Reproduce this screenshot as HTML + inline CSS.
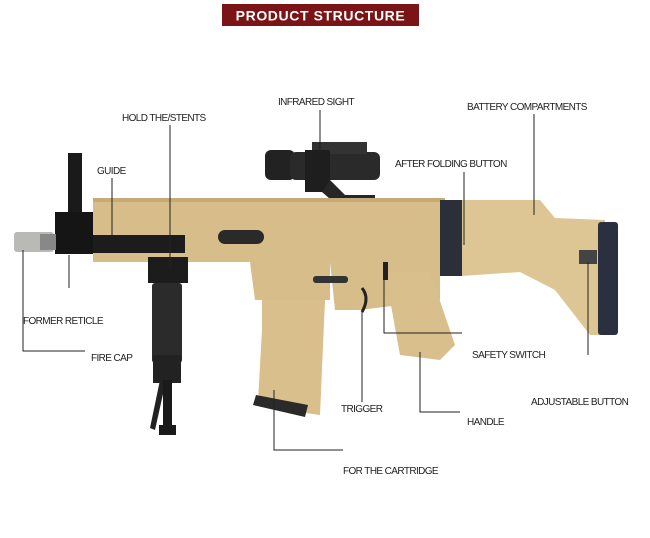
<!DOCTYPE html>
<html><head><meta charset="utf-8"><style>
html,body{margin:0;padding:0;background:#fff;width:650px;height:538px;overflow:hidden}
svg{display:block}
text{font-family:"Liberation Sans",sans-serif;font-size:10px;fill:#222;letter-spacing:-0.6px}
</style></head><body>
<svg width="650" height="538" viewBox="0 0 650 538">
<rect x="222" y="4" width="197" height="22" fill="#7b1416"/>
<text x="320.5" y="20.5" text-anchor="middle" style="font-size:14px;font-weight:bold;fill:#fff;letter-spacing:0.6px">PRODUCT STRUCTURE</text>

<!-- scope -->
<rect x="265" y="150" width="30" height="30" rx="6" fill="#222"/>
<rect x="290" y="152" width="90" height="28" rx="6" fill="#2a2a2a"/>
<rect x="312" y="142" width="55" height="12" fill="#333"/>
<rect x="305" y="150" width="25" height="42" fill="#1e1e1e"/>
<path d="M330 180 L345 195 L375 195 L375 206 L338 206 L322 192 Z" fill="#262626"/>

<!-- front sight & flash hider -->
<rect x="68" y="153" width="14" height="62" fill="#1a1a1a"/>
<rect x="55" y="212" width="38" height="42" fill="#151515"/>
<rect x="14" y="232" width="40" height="20" rx="3" fill="#b9b9b6"/>
<rect x="40" y="234" width="16" height="16" fill="#888"/>

<!-- receiver -->
<path d="M93 200 L445 200 L445 262 L330 262 L330 300 L255 300 L250 262 L93 262 Z" fill="#d6bd8a"/>
<rect x="93" y="198" width="352" height="4" fill="#c7ab76"/>
<rect x="93" y="235" width="92" height="18" fill="#1c1c1c"/>
<rect x="218" y="230" width="46" height="14" rx="7" fill="#2a2a2a"/>
<rect x="440" y="200" width="22" height="76" fill="#2a2f3a"/>
<!-- stock -->
<path d="M462 200 L540 200 L555 218 L605 220 L605 335 L590 335 L555 290 L520 272 L462 276 Z" fill="#dec694"/>
<rect x="598" y="222" width="20" height="113" rx="3" fill="#2b3040"/>
<rect x="579" y="250" width="18" height="14" fill="#444"/>
<!-- trigger area & grip -->
<path d="M330 262 L440 262 L440 300 L360 310 L335 310 Z" fill="#d6bd8a"/>
<path d="M385 272 L430 272 L455 345 L440 360 L400 355 Z" fill="#d8bf8b"/>
<rect x="313" y="276" width="35" height="7" rx="3" fill="#333"/>
<path d="M362 288 Q370 298 362 312" stroke="#222" stroke-width="3" fill="none"/>
<rect x="383" y="262" width="5" height="18" fill="#222"/>
<!-- magazine -->
<path d="M262 300 L325 300 L320 415 L298 412 L258 402 L262 330 Z" fill="#d8bf8b"/>
<path d="M256 395 L308 405 L305 417 L253 405 Z" fill="#2a2a2a"/>
<!-- foregrip -->
<rect x="148" y="257" width="40" height="26" fill="#1c1c1c"/>
<rect x="152" y="283" width="30" height="80" rx="3" fill="#2b2b2b"/>
<rect x="153" y="355" width="28" height="28" fill="#222"/>
<path d="M160 380 L150 428 L155 430 L165 385 Z" fill="#222"/>
<rect x="163" y="380" width="9" height="55" fill="#1a1a1a"/>
<rect x="159" y="425" width="17" height="10" fill="#1a1a1a"/>

<!-- connector lines -->
<g stroke="#222" stroke-width="1" fill="none">
<path d="M320 110 V150"/>
<path d="M170 125 V268"/>
<path d="M534 114 V215"/>
<path d="M112 178 V235"/>
<path d="M464 172 V245"/>
<path d="M69 255 V288"/>
<path d="M23 250 V351 H85"/>
<path d="M384 270 V333 H462"/>
<path d="M588 262 V355"/>
<path d="M362 310 V402"/>
<path d="M420 352 V412 H460"/>
<path d="M274 390 V450 H343"/>
</g>

<text x="122" y="121">HOLD THE/STENTS</text>
<text x="278" y="105">INFRARED SIGHT</text>
<text x="467" y="110">BATTERY COMPARTMENTS</text>
<text x="97" y="174">GUIDE</text>
<text x="395" y="167">AFTER FOLDING BUTTON</text>
<text x="23" y="324">FORMER RETICLE</text>
<text x="91" y="361">FIRE CAP</text>
<text x="472" y="358">SAFETY SWITCH</text>
<text x="341" y="412">TRIGGER</text>
<text x="467" y="425">HANDLE</text>
<text x="531" y="405">ADJUSTABLE BUTTON</text>
<text x="343" y="474">FOR THE CARTRIDGE</text>
</svg>
</body></html>
